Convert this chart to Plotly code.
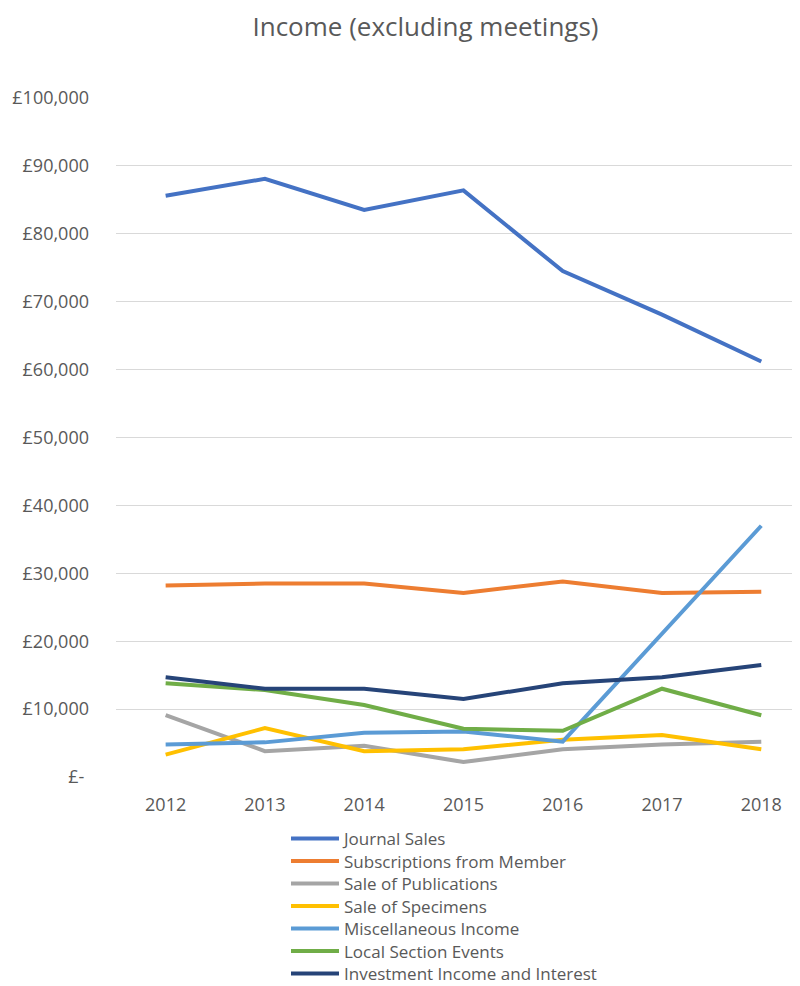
import plotly.graph_objects as go

years = ["2012", "2013", "2014", "2015", "2016", "2017", "2018"]
journal_sales = [85600, 88100, 83500, 86400, 74500, 68100, 61200]
subscriptions = [28200, 28500, 28500, 27100, 28800, 27100, 27300]
sale_publications = [9100, 3800, 4600, 2200, 4100, 4800, 5200]
sale_specimens = [3300, 7200, 3800, 4100, 5500, 6200, 4100]
misc_income = [4800, 5100, 6500, 6700, 5200, 21000, 37000]
local_events = [13800, 12800, 10600, 7100, 6800, 13000, 9100]
investment = [14700, 13000, 13000, 11500, 13800, 14700, 16500]

series_names = ["Journal Sales", "Subscriptions from Member", "Sale of Publications",
                "Sale of Specimens", "Miscellaneous Income", "Local Section Events",
                "Investment Income and Interest"]
series_values = [journal_sales, subscriptions, sale_publications, sale_specimens,
                 misc_income, local_events, investment]
series_colors = ["#4472C4", "#ED7D31", "#A5A5A5", "#FFC000", "#5B9BD5", "#70AD47", "#264478"]

ytickvals = [0, 10000, 20000, 30000, 40000, 50000, 60000, 70000, 80000, 90000, 100000]
yticktext = ["£-\u00a0", "£10,000", "£20,000", "£30,000", "£40,000", "£50,000",
             "£60,000", "£70,000", "£80,000", "£90,000", "£100,000"]

# figure is placed 8px in from the page corner (body margin)
W, H = 792, 978
xidx = list(range(len(years)))
font_family = "Open Sans, Liberation Sans, sans-serif"
grey = "#595959"

fig = go.Figure()
legend_layouts = {}
for i, (name, vals, color) in enumerate(zip(series_names, series_values, series_colors)):
    key = "legend" if i == 0 else f"legend{i + 1}"
    fig.add_trace(go.Scatter(x=xidx, y=vals, name=name, mode="lines",
                             line=dict(color=color, width=4), legend=key))
    row_center = 839 + 22.5 * i - 8
    legend_layouts[key] = dict(
        xref="container", x=278 / W, xanchor="left",
        yref="container", y=1 - row_center / H, yanchor="middle",
        font=dict(size=17, color=grey, family=font_family),
        bgcolor="rgba(0,0,0,0)", itemwidth=48, borderwidth=0,
    )

fig.update_layout(
    width=W, height=H,
    margin=dict(l=108, r=0, t=90, b=209, autoexpand=False),
    paper_bgcolor="white", plot_bgcolor="white",
    font=dict(family=font_family, color=grey, size=18),
    title=dict(text="Income (excluding meetings)", x=417.5 / W, xanchor="center",
               y=1 - 19 / H, yanchor="middle",
               font=dict(size=26, color=grey, family=font_family)),
    xaxis=dict(tickvals=xidx, ticktext=years, range=[-0.5, 6.39],
               showgrid=False, zeroline=False, showline=False, ticks="",
               automargin=False, ticklabelstandoff=15,
               tickfont=dict(size=18, color=grey)),
    yaxis=dict(range=[0, 100000], tickvals=ytickvals, ticktext=yticktext,
               showgrid=True, gridcolor="#D9D9D9", gridwidth=1,
               zeroline=False, showline=False, ticks="", automargin=False,
               tickfont=dict(size=18, color=grey), ticklabelstandoff=26),
    showlegend=True,
    **legend_layouts,
)

fig.write_html("out.html")
